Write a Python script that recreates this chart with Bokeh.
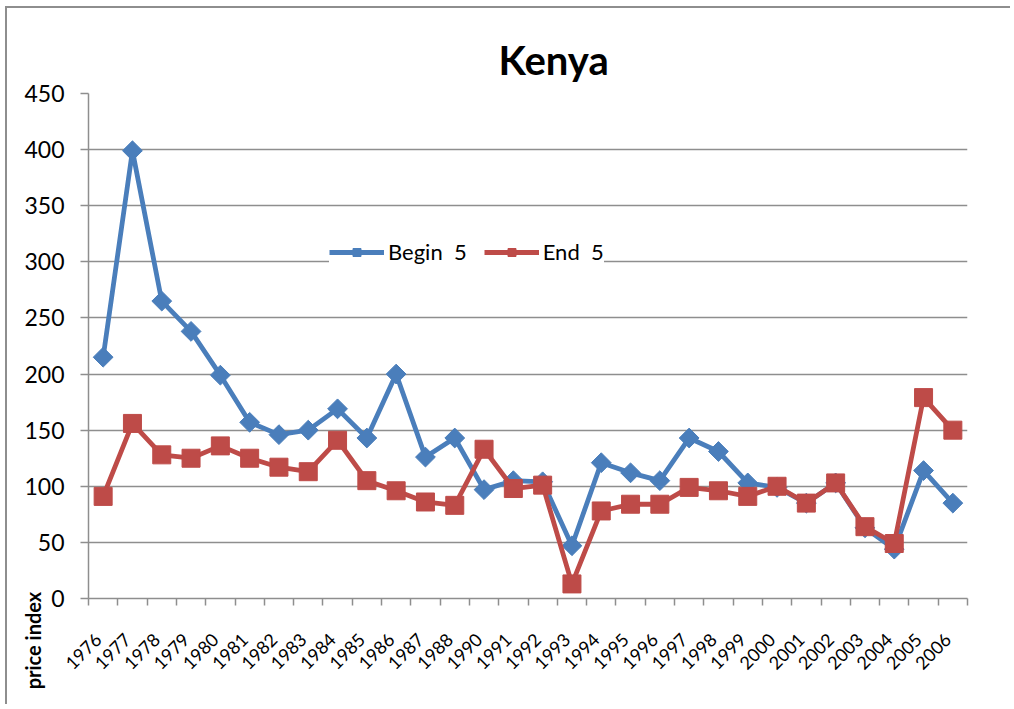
import numpy as np
from math import pi
from bokeh.plotting import figure
from bokeh.models import (Range1d, FixedTicker, Label, Legend, LegendItem,
                          Title, ColumnDataSource)
from bokeh.embed import file_html
from bokeh.resources import INLINE

# ---- data ----
years = ["1976", "1977", "1978", "1979", "1980", "1981", "1982", "1983", "1984",
         "1985", "1986", "1987", "1988", "1990", "1991", "1992", "1993", "1994",
         "1995", "1996", "1997", "1998", "1999", "2000", "2001", "2002", "2003",
         "2004", "2005", "2006"]
begin_5 = [215, 399, 265, 238, 199, 157, 146, 150, 169, 143, 200, 126, 143, 97,
           105, 104, 47, 121, 112, 105, 143, 131, 103, 99, 85, 103, 63, 44, 114, 85]
end_5 = [91, 156, 128, 125, 136, 125, 117, 113, 141, 105, 96, 86, 83, 133, 98,
         101, 13, 78, 84, 84, 99, 96, 91, 100, 85, 103, 64, 49, 179, 150]
y_ticks = [0, 50, 100, 150, 200, 250, 300, 350, 400, 450]
title_text = "Kenya"
y_title = "price index"
series_names = ["Begin  5", "End  5"]

BLUE = "#4A7EBB"
RED = "#BE4B48"
GRID = "#8E8E8E"
FONT = "Lato"

n = len(years)
xs = np.arange(n) + 0.5
src = ColumnDataSource(dict(x=xs, year=years, b=begin_5, e=end_5))

p = figure(width=1005, height=698, x_range=Range1d(0, n), y_range=Range1d(0, 450),
           output_backend="svg", toolbar_location=None, title=None,
           min_border_left=81, min_border_right=45, min_border_top=85,
           min_border_bottom=108)
p.styles = {"margin-left": "5px", "margin-top": "6px",
            "border-left": "2px solid #8E8E8E", "border-top": "2px solid #8E8E8E"}
p.outline_line_color = None
p.background_fill_color = "white"
p.border_fill_color = "white"

# x axis: labels at category centres (nudged slightly left as in the original),
# tick marks at category boundaries
label_pos = [round(float(x) - 0.17, 3) for x in xs]
p.xaxis.ticker = FixedTicker(ticks=label_pos, minor_ticks=list(range(n + 1)))
p.xaxis.major_label_overrides = {x: y for x, y in zip(label_pos, years)}
p.xaxis.major_tick_line_color = None
p.xaxis.major_tick_out = 0
p.xaxis.minor_tick_line_color = GRID
p.xaxis.minor_tick_line_width = 1.5
p.xaxis.minor_tick_out = 7
p.xaxis.minor_tick_in = 0
p.xaxis.major_label_orientation = pi / 4
p.xaxis.major_label_text_font = FONT
p.xaxis.major_label_text_font_size = "18px"
p.xaxis.major_label_text_color = "black"
p.xaxis.major_label_standoff = 31
p.xaxis.axis_line_color = GRID
p.xaxis.axis_line_width = 1.5
p.xgrid.visible = False

# y axis
p.yaxis.ticker = FixedTicker(ticks=y_ticks)
p.yaxis.minor_tick_line_color = None
p.yaxis.major_tick_line_color = GRID
p.yaxis.major_tick_line_width = 1.5
p.yaxis.major_tick_out = 8
p.yaxis.major_tick_in = 0
p.yaxis.major_label_text_font = FONT
p.yaxis.major_label_text_font_size = "23px"
p.yaxis.major_label_text_color = "black"
p.yaxis.major_label_standoff = 16
p.yaxis.axis_line_color = GRID
p.yaxis.axis_line_width = 1.5
p.ygrid.ticker = FixedTicker(ticks=y_ticks)
p.ygrid.grid_line_color = GRID
p.ygrid.grid_line_width = 1.5

# series
lb = p.line("x", "b", source=src, line_color=BLUE, line_width=4.8)
mb = p.scatter("x", "b", source=src, marker="square", angle=pi / 4, size=14,
               fill_color=BLUE, line_color=BLUE)
le = p.line("x", "e", source=src, line_color=RED, line_width=4.8)
me = p.scatter("x", "e", source=src, marker="square", size=18,
               fill_color=RED, line_color=RED)

legend = Legend(items=[LegendItem(label=series_names[0], renderers=[lb, mb]),
                       LegendItem(label=series_names[1], renderers=[le, me])],
                location=(241, 333), orientation="horizontal",
                border_line_color=None, background_fill_color="white",
                background_fill_alpha=1.0, padding=2, margin=0, spacing=17,
                label_standoff=4, glyph_width=55, glyph_height=20,
                label_text_font=FONT, label_text_font_size="22px",
                label_text_color="black")
p.add_layout(legend)

# chart title
p.title = Title(text=title_text, align="left", offset=410, standoff=20,
                text_font=FONT, text_font_size="40px", text_font_style="bold",
                text_color="black")

# y-axis title, placed low as in the original (in the right side panel so the
# frame keeps its position; shifted back across to the left edge)
p.add_layout(Label(x=-935, y=-42, x_units="screen", y_units="screen", text=y_title,
                   angle=pi / 2, text_align="center", text_baseline="middle",
                   text_font=FONT, text_font_size="20px", text_font_style="bold",
                   text_color="black"), "right")

open("out.html", "w").write(file_html(p, INLINE))
